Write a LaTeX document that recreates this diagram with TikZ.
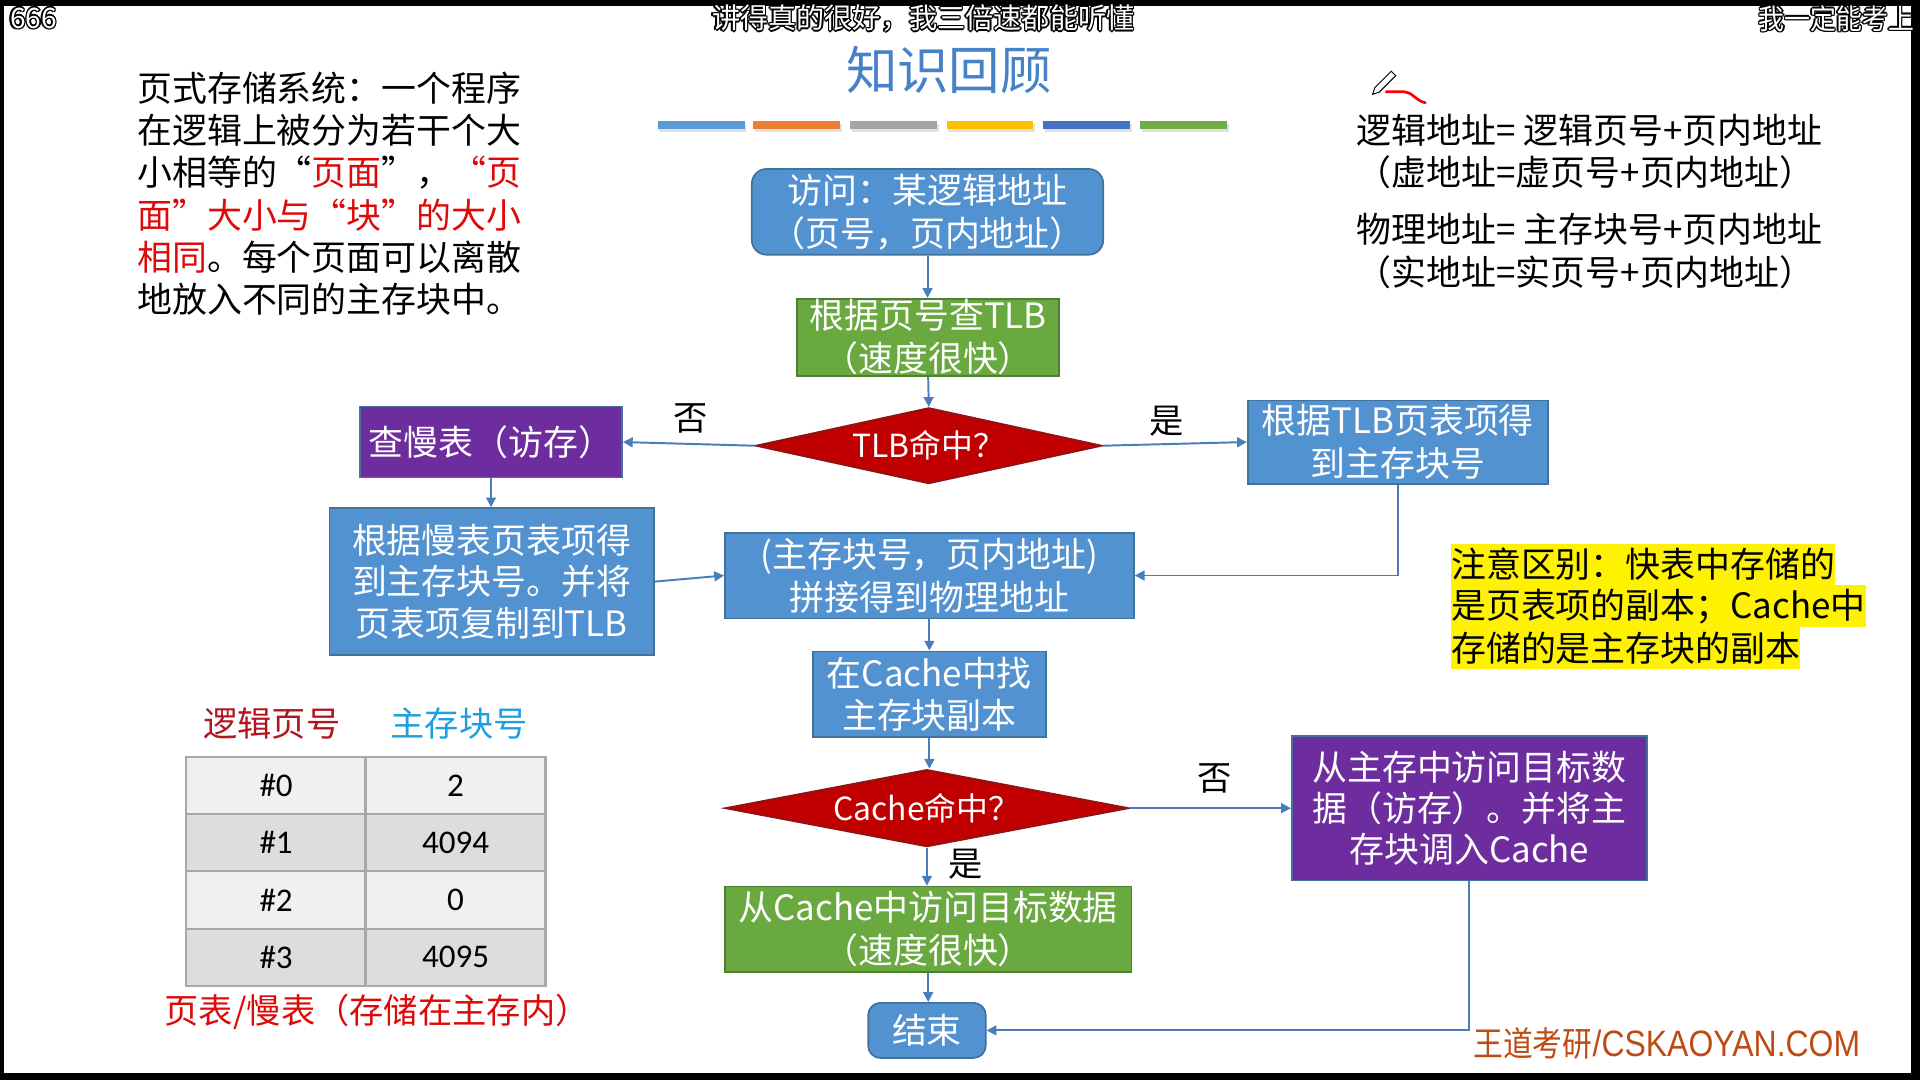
\documentclass[tikz,border=0pt]{standalone}
\usepackage{fontspec}
\usepackage{graphicx}
\setmainfont{Noto Sans CJK SC}
\newfontfamily\calfont{Carlito}
\newfontfamily\libfont{Liberation Sans}
\usetikzlibrary{arrows.meta,shapes.geometric}
\definecolor{boxblue}{RGB}{83,146,209}
\definecolor{boxborder}{RGB}{65,113,156}
\definecolor{boxgreen}{RGB}{106,168,64}
\definecolor{greenborder}{RGB}{80,126,50}
\definecolor{boxpurple}{RGB}{110,45,158}
\definecolor{boxred}{RGB}{192,0,0}
\definecolor{redborder}{RGB}{140,20,20}
\definecolor{arrowblue}{RGB}{74,126,187}
\definecolor{titleblue}{RGB}{70,130,200}
\definecolor{txtred}{RGB}{222,10,10}
\definecolor{hdrred}{RGB}{180,20,30}
\definecolor{hdrblue}{RGB}{30,160,224}
\definecolor{tblgray}{RGB}{168,168,168}
\definecolor{rowlight}{RGB}{240,240,240}
\definecolor{rowdark}{RGB}{221,221,221}
\definecolor{wmcolor}{RGB}{190,75,20}
\definecolor{barA}{HTML}{5B9BD5}
\definecolor{barB}{HTML}{ED7D31}
\definecolor{barC}{HTML}{A5A5A5}
\definecolor{barD}{HTML}{FFC000}
\definecolor{barE}{HTML}{4472C4}
\definecolor{barF}{HTML}{70AD47}
\newcommand\fs[2]{\fontsize{#1}{#2}\selectfont}
\newcommand\outlinedtext[1]{\leavevmode
  \rlap{\kern-1.3pt\textcolor{black}{#1}}%
  \rlap{\kern1.3pt\textcolor{black}{#1}}%
  \rlap{\raisebox{1.3pt}{\textcolor{black}{#1}}}%
  \rlap{\raisebox{-1.3pt}{\textcolor{black}{#1}}}%
  \rlap{\kern-0.9pt\raisebox{0.9pt}{\textcolor{black}{#1}}}%
  \rlap{\kern0.9pt\raisebox{0.9pt}{\textcolor{black}{#1}}}%
  \rlap{\kern-0.9pt\raisebox{-0.9pt}{\textcolor{black}{#1}}}%
  \rlap{\kern0.9pt\raisebox{-0.9pt}{\textcolor{black}{#1}}}%
  \textcolor{white}{#1}}
\tikzset{
  basebox/.style={draw, line width=1.4pt, inner sep=0pt, align=center, text=white, font=\fs{28.5}{35}},
  bluebox/.style={basebox, fill=boxblue, draw=boxborder},
  greenbox/.style={basebox, fill=boxgreen, draw=greenborder},
  purplebox/.style={basebox, fill=boxpurple, draw=boxborder},
  decision/.style={basebox, shape=diamond, aspect=4.5, fill=boxred, draw=redborder, font=\fs{26}{30}},
  conn/.style={draw=arrowblue, line width=1.6pt, -{Triangle[length=8pt,width=8pt]}},
  lbl/.style={font=\fs{28}{34}, text=black, inner sep=0pt},
  plain/.style={font=\fs{28.5}{34}, text=black, inner sep=0pt, anchor=west},
  note/.style={font=\fs{28.5}{34}, text=black, fill=yellow, inner xsep=0pt, inner ysep=0pt, minimum height=34pt, anchor=west},
  cell/.style={draw=tblgray, line width=1.8pt, minimum width=147pt, minimum height=46.75pt, inner sep=0pt, font=\calfont\fs{27}{27}, text=black},
  danmu/.style={font=\fs{23}{23}, inner sep=0pt}
}
\begin{document}
\begin{tikzpicture}[x=1pt,y=-1pt]
\useasboundingbox (0,0) rectangle (1568,882);
\fill[black] (0,0) rectangle (1568,882);
\fill[white] (3,5) rectangle (1561,876);

% danmaku overlay texts
\node[danmu, anchor=west] (dm1) at (8,15) {\outlinedtext{666}};
\node[danmu] (dm2) at (754,15) {\outlinedtext{讲得真的很好，我三倍速都能听懂}};
\node[danmu, anchor=west] (dm3) at (1436,15) {\scalebox{0.92}[1]{\outlinedtext{我一定能考上}}};

% title and colour bars
\node[font=\fs{42}{42}, text=titleblue, inner sep=0pt] (title) at (775,57) {知识回顾};
\foreach \x/\c in {537/barA,615/barB,694/barC,773/barD,852/barE,931/barF}{
  \fill[black!12] (\x+1.5,101) rectangle (\x+72.5,108);
  \fill[\c] (\x,99) rectangle (\x+71,105.5);
}

% left text block
\node[plain] (t1) at (112,72) {页式存储系统：一个程序};
\node[plain] (t2) at (112,106.5) {在逻辑上被分为若干个大};
\node[plain] (t3) at (112,141) {小相等的“\textcolor{txtred}{页面}”，\textcolor{txtred}{“页}};
\node[plain, text=txtred] (t4) at (112,175.5) {面”大小与“块”的大小};
\node[plain] (t5) at (112,210) {\textcolor{txtred}{相同}。每个页面可以离散};
\node[plain] (t6) at (112,244.5) {地放入不同的主存块中。};

% right address text
\draw[line width=0.8pt, fill=white] (1121,77) -- (1122.7,71.7) -- (1136.2,58.2) -- (1139.8,61.8) -- (1126.3,75.3) -- cycle;
\draw[red, line width=2.2pt, line cap=round] (1132,75) -- (1147,75) .. controls (1153,75) and (1156,82) .. (1164,84);
\node[plain] (r1) at (1108,106) {逻辑地址= 逻辑页号+页内地址};
\node[plain] (r2) at (1108,141) {（虚地址=虚页号+页内地址）};
\node[plain] (r3) at (1108,187) {物理地址= 主存块号+页内地址};
\node[plain] (r4) at (1108,222) {（实地址=实页号+页内地址）};

% flowchart nodes
\node[bluebox, rounded corners=12pt, minimum width=287pt, minimum height=70pt] (n1) at (757.5,173) {访问：某逻辑地址\\（页号，页内地址）};
\node[greenbox, minimum width=214pt, minimum height=63pt] (n2) at (758,275.5) {根据页号查TLB\\（速度很快）};
\node[decision, minimum width=283pt, minimum height=62pt] (d1) at (758.5,364) {TLB命中？};
\node[purplebox, minimum width=214pt, minimum height=58pt] (n4) at (401,361) {查慢表（访存）};
\node[bluebox, minimum width=245pt, minimum height=68pt] (n5) at (1141.5,361) {根据TLB页表项得\\到主存块号};
\node[bluebox, minimum width=265pt, minimum height=120pt, font=\fs{28.5}{34}] (n6) at (401.5,475) {根据慢表页表项得\\到主存块号。并将\\页表项复制到TLB};
\node[bluebox, minimum width=334pt, minimum height=70pt] (n7) at (759,470) {(主存块号，页内地址)\\拼接得到物理地址};
\node[bluebox, minimum width=190pt, minimum height=70pt] (n8) at (759,567) {在Cache中找\\主存块副本};
\node[decision, minimum width=330pt, minimum height=63pt] (d2) at (757,660) {Cache命中？};
\node[purplebox, minimum width=290pt, minimum height=118pt, font=\fs{28.5}{33.5}] (n10) at (1200,660) {从主存中访问目标数\\据（访存）。并将主\\存块调入Cache};
\node[greenbox, minimum width=332pt, minimum height=70pt] (n11) at (758,759) {从Cache中访问目标数据\\（速度很快）};
\node[bluebox, rounded corners=10pt, minimum width=96pt, minimum height=45pt] (n12) at (757,841.5) {结束};

% connectors
\draw[conn] (n1.south) -- (n1.south |- n2.north);
\draw[conn] (n2.south) -- (d1.north);
\draw[conn] (d1.west) -- (n4.east);
\draw[conn] (d1.east) -- (n5.west);
\draw[conn] (n4.south) -- (n4.south |- n6.north);
\draw[conn] (n6.east) -- (n7.west);
\draw[conn] (n5.south) |- (n7.east);
\draw[conn] (n7.south) -- (n7.south |- n8.north);
\draw[conn] (n8.south) -- (n8.south |- d2.north);
\draw[conn] (d2.south) -- (d2.south |- n11.north);
\draw[conn] (d2.east) -- (n10.west);
\draw[conn] (n11.south) -- (n11.south |- n12.north);
\draw[conn] (n10.south) |- (n12.east);

% branch labels
\node[lbl] (no1) at (564,342) {否};
\node[lbl] (yes1) at (953,344) {是};
\node[lbl] (yes2) at (789,706) {是};
\node[lbl] (no2) at (992,636) {否};

% note
\node[note] (nt1) at (1185,461) {注意区别：快表中存储的};
\node[note] (nt2) at (1185,495) {是页表项的副本；Cache中};
\node[note] (nt3) at (1185,529) {存储的是主存块的副本};

% page table
\node[font=\fs{28}{28}, text=hdrred, inner sep=0pt] (h1) at (222,591) {逻辑页号};
\node[font=\fs{28}{28}, text=hdrblue, inner sep=0pt] (h2) at (375,591) {主存块号};
\node[cell, fill=rowlight] (c00) at (225.5,641.5) {\#0};
\node[cell, fill=rowlight] (c01) at (372,641.5) {2};
\node[cell, fill=rowdark] (c10) at (225.5,688.25) {\#1};
\node[cell, fill=rowdark] (c11) at (372,688.25) {4094};
\node[cell, fill=rowlight] (c20) at (225.5,735) {\#2};
\node[cell, fill=rowlight] (c21) at (372,735) {0};
\node[cell, fill=rowdark] (c30) at (225.5,781.75) {\#3};
\node[cell, fill=rowdark] (c31) at (372,781.75) {4095};
\node[font=\fs{28}{28}, text=txtred, inner sep=0pt] (cap) at (308,826) {页表/慢表（存储在主存内）};

% watermark
\node[anchor=west, inner sep=0pt, text=wmcolor] (wm) at (1203,852) {\scalebox{0.87}[1]{\fs{28}{28}王道考研{\libfont\fs{30}{30}/CSKAOYAN.COM}}};
\end{tikzpicture}
\end{document}
